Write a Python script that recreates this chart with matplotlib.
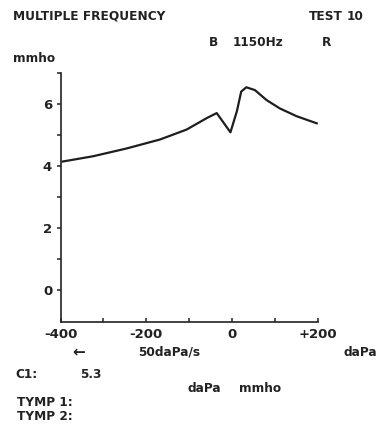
import matplotlib
matplotlib.use('Agg')
import matplotlib.pyplot as plt

# tympanogram sweep
pressure = [-395, -324, -246, -168, -106, -59, -36, -4, 11, 21, 33, 53, 80, 111, 150, 197]
admittance = [4.15, 4.32, 4.57, 4.86, 5.18, 5.55, 5.71, 5.09, 5.77, 6.40, 6.54, 6.45, 6.13, 5.86, 5.61, 5.38]

x_major = [-400, -200, 0, 200]
x_labels = ['-400', '-200', '0', '+200']
x_minor = [-300, -100, 100]
y_major = [0, 2, 4, 6]
y_minor = [1, 3, 5, 7]

W, H = 378, 425
fig = plt.figure(figsize=(W / 100, H / 100), dpi=100)
fig.patch.set_facecolor('white')

def px(x, y):
    return x / W, 1 - y / H

left, right, top, bottom = 60.5, 318, 73, 321.5
ax = fig.add_axes([left / W, 1 - bottom / H, (right - left) / W, (bottom - top) / H])
ax.plot(pressure, admittance, color='#1e1e1e', lw=1.6, solid_joinstyle='round')

ax.set_xlim(-400, 200)
ax.set_ylim(-1, 7)
for s in ['top', 'right']:
    ax.spines[s].set_visible(False)
for s in ['left', 'bottom']:
    ax.spines[s].set_linewidth(1.2)
    ax.spines[s].set_color('#222222')

ax.set_xticks(x_major)
ax.set_xticklabels(x_labels)
ax.set_xticks(x_minor, minor=True)
ax.set_yticks(y_major)
ax.set_yticks(y_minor, minor=True)
ax.tick_params(axis='x', which='both', direction='in', length=3, width=1.1,
               color='#222222', pad=5, labelsize=9.5)
ax.tick_params(axis='y', which='both', direction='out', length=3, width=1.1,
               color='#222222', pad=3, labelsize=9.5)
for lab in ax.get_xticklabels() + ax.get_yticklabels():
    lab.set_fontweight('bold')
    lab.set_color('#222222')

txt = dict(fontsize=8.7, fontweight='bold', color='#222222', va='center')
fig.text(*px(13, 16), 'MULTIPLE FREQUENCY', ha='left', **txt)
fig.text(*px(309, 16), 'TEST', ha='left', **txt)
fig.text(*px(347, 16), '10', ha='left', **txt)
fig.text(*px(209, 43), 'B', ha='left', **txt)
fig.text(*px(233, 43), '1150Hz', ha='left', **txt)
fig.text(*px(322, 43), 'R', ha='left', **txt)
fig.text(*px(13, 58), 'mmho', ha='left', **txt)

fig.text(*px(79, 352), '\u2190', ha='center', fontsize=11, fontweight='bold',
         color='#222222', va='center')
fig.text(*px(138, 352), '50daPa/s', ha='left', **txt)
fig.text(*px(343, 352), 'daPa', ha='left', **txt)
fig.text(*px(15, 375), 'C1:', ha='left', **txt)
fig.text(*px(80, 375), '5.3', ha='left', **txt)
fig.text(*px(188, 388), 'daPa', ha='left', **txt)
fig.text(*px(239, 388), 'mmho', ha='left', **txt)
fig.text(*px(17, 402), 'TYMP 1:', ha='left', **txt)
fig.text(*px(17, 416), 'TYMP 2:', ha='left', **txt)

fig.savefig('out.png', dpi=100, facecolor='white')
